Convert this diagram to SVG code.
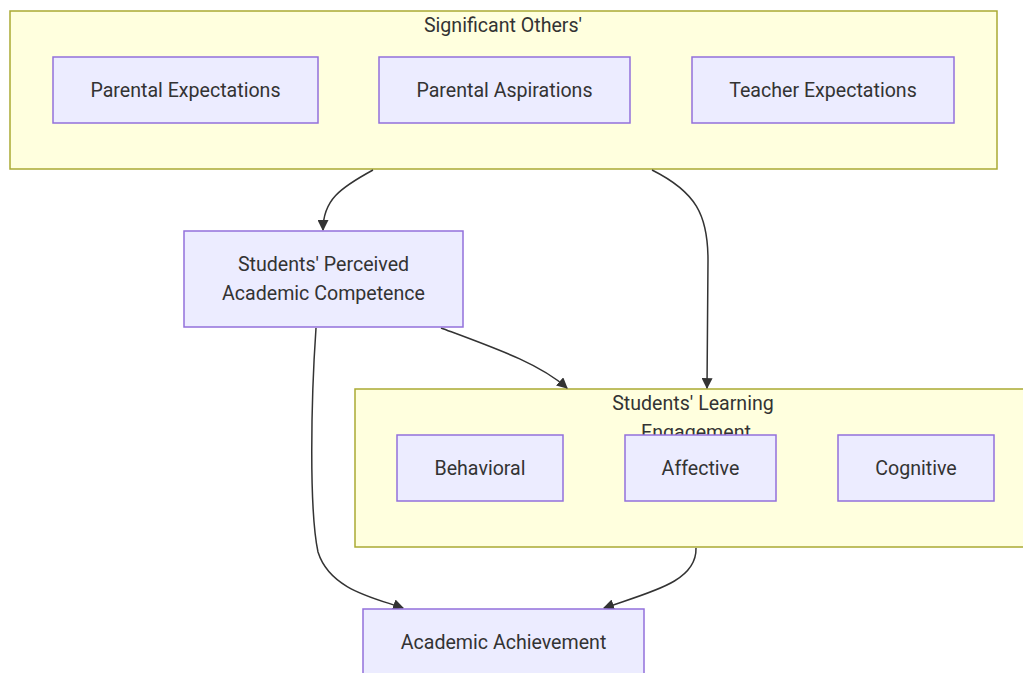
<svg xmlns="http://www.w3.org/2000/svg" width="1023" height="673" viewBox="0 0 1023 673">
  <style>
    .cluster { fill: #ffffde; stroke: #aaaa33; stroke-width: 1.5; }
    .node { fill: #ececff; stroke: #9370db; stroke-width: 1.5; }
    .label { font-family: Roboto, "Liberation Sans", sans-serif; font-size: 19.6px; fill: #333333; text-anchor: middle; dominant-baseline: central; }
    .edge { fill: none; stroke: #333333; stroke-width: 1.5; }
  </style>
  <defs>
    <marker id="arrow" viewBox="0 0 10 10" refX="9" refY="5" markerWidth="11" markerHeight="11" markerUnits="userSpaceOnUse" orient="auto">
      <path d="M0,0 L10,5 L0,10 z" fill="#333333"/>
    </marker>
  </defs>
  <rect width="1023" height="673" fill="#ffffff"/>

  <!-- Cluster: Significant Others' -->
  <g id="cluster-significant-others">
    <rect class="cluster" x="10" y="11" width="987" height="158"/>
    <text class="label" x="503" y="25">Significant Others'</text>
  </g>

  <!-- Cluster: Students' Learning Engagement -->
  <g id="cluster-engagement">
    <rect class="cluster" x="355" y="389" width="675" height="158"/>
    <text class="label" x="693" y="403">Students' Learning</text>
    <text class="label" x="696" y="432">Engagement</text>
  </g>

  <g id="connectors">
    <path class="edge" d="M373,170 C340,188 323,200 323,230" marker-end="url(#arrow)"/>
    <path class="edge" d="M652,170 C696,192 708,215 708,260 L707,388" marker-end="url(#arrow)"/>
    <path class="edge" d="M441,328 C500,350 540,364 567,388" marker-end="url(#arrow)"/>
    <path class="edge" d="M316,328 C311,400 309,510 318,552 C330,590 375,598 403,608" marker-end="url(#arrow)"/>
    <path class="edge" d="M696,548 C697,582 650,592 604,608" marker-end="url(#arrow)"/>
  </g>

  <g id="node-parental-expectations">
    <rect class="node" x="53" y="57" width="265" height="66"/>
    <text class="label" x="185.5" y="90">Parental Expectations</text>
  </g>
  <g id="node-parental-aspirations">
    <rect class="node" x="379" y="57" width="251" height="66"/>
    <text class="label" x="504.5" y="90">Parental Aspirations</text>
  </g>
  <g id="node-teacher-expectations">
    <rect class="node" x="692" y="57" width="262" height="66"/>
    <text class="label" x="823" y="90">Teacher Expectations</text>
  </g>
  <g id="node-perceived-competence">
    <rect class="node" x="184" y="231" width="279" height="96"/>
    <text class="label" x="323.5" y="264">Students' Perceived</text>
    <text class="label" x="323.5" y="293">Academic Competence</text>
  </g>
  <g id="node-behavioral">
    <rect class="node" x="397" y="435" width="166" height="66"/>
    <text class="label" x="480" y="468">Behavioral</text>
  </g>
  <g id="node-affective">
    <rect class="node" x="625" y="435" width="151" height="66"/>
    <text class="label" x="700.5" y="468">Affective</text>
  </g>
  <g id="node-cognitive">
    <rect class="node" x="838" y="435" width="156" height="66"/>
    <text class="label" x="916" y="468">Cognitive</text>
  </g>
  <g id="node-achievement">
    <rect class="node" x="363" y="609" width="281" height="80"/>
    <text class="label" x="503.5" y="642">Academic Achievement</text>
  </g>
</svg>
